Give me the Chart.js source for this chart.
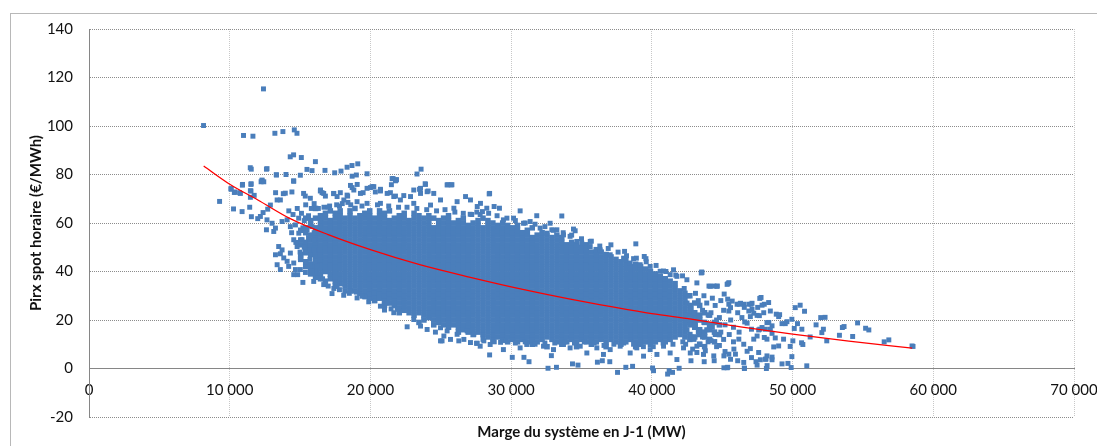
<!DOCTYPE html>
<html>
<head>
<meta charset="utf-8">
<script src="https://cdn.jsdelivr.net/npm/chart.js@4.4.1/dist/chart.umd.min.js"></script>
<style>
  html, body { margin: 0; padding: 0; background: #fff; }
  #wrap { position: relative; width: 1097px; height: 446px; overflow: hidden; }
  #frame { position: absolute; left: 10px; top: 13px; right: -2px; bottom: -2px; border-left: 1px solid #b8b8b8; border-top: 1px solid #b8b8b8; }
  #chart { position: absolute; left: 0; top: 0; }
</style>
</head>
<body>
<div id="wrap">
  <div id="frame"></div>
  <canvas id="chart" width="1097" height="446"></canvas>
</div>
<script>
// hourly spot price vs. system margin
// dense core: one string per margin column, "MW:prices..."
var coreCols = [
  "15050:45 47 51 53 57",
  "15400:42 44 48 50 52 56 58 62",
  "15750:39 41 43 47 49 51 53 55 59 61",
  "16100:38 40 42 44 46 48 50 52 54 56 58 62 66",
  "16450:37 39 41 43 45 47 49 51 53 55 57 59 61 63",
  "16800:36 40 42 44 46 48 50 52 54 56 58 60 62 64",
  "17150:37 39 41 43 45 47 49 51 53 55 57 59 61 65",
  "17500:34 36 38 40 42 44 46 48 50 52 54 56 58 60 62 64",
  "17850:35 37 39 41 43 45 47 49 51 53 55 57 59 61 63 65",
  "18200:32 34 36 38 40 42 44 46 48 50 52 54 56 58 60 62",
  "18550:33 35 37 39 41 43 45 47 49 51 53 55 57 59 61 63 65",
  "18900:32 34 36 38 40 42 44 46 48 50 52 54 56 58 60 62 66",
  "19250:31 33 35 37 39 41 43 45 47 49 51 53 55 57 59 61 63",
  "19600:30 32 34 36 38 40 42 44 46 48 50 52 54 56 58 60 62 64",
  "19950:29 31 33 35 37 39 41 43 45 47 49 51 53 55 57 59 61 63 65",
  "20300:28 30 32 34 36 38 40 42 44 46 48 50 52 54 56 58 60 62",
  "20650:29 31 33 35 37 39 41 43 45 47 49 51 53 55 57 59 61 63 65",
  "21000:26 28 30 32 34 36 38 40 42 44 46 48 50 52 54 56 58 60 62 64",
  "21350:27 29 31 33 35 37 39 41 43 45 47 49 51 53 55 57 59 61 65",
  "21700:26 28 30 32 34 36 38 40 42 44 46 48 50 52 54 56 58 60 62",
  "22050:23 25 27 29 31 33 35 37 39 41 43 45 47 49 51 53 55 57 59 61 63",
  "22400:24 26 28 30 32 34 36 38 40 42 44 46 48 50 52 54 56 58 60 62 64",
  "22750:23 25 27 29 31 33 35 37 39 41 43 45 47 49 51 53 55 57 59 61",
  "23100:22 24 26 28 30 32 34 36 38 40 42 44 46 48 50 52 54 56 58 60 62 64",
  "23450:19 23 25 27 29 31 33 35 37 39 41 43 45 47 49 51 53 55 57 59 61 63",
  "23800:20 22 24 26 28 30 32 34 36 38 40 42 44 46 48 50 52 54 56 58 60 62",
  "24150:21 23 25 27 29 31 33 35 37 39 41 43 45 47 49 51 53 55 57 59 61 63",
  "24500:18 20 22 24 26 28 30 32 34 36 38 40 42 44 46 48 50 52 54 56 58 62",
  "24850:19 21 23 25 27 29 31 33 35 37 39 41 43 45 47 49 51 53 55 57 59 61",
  "25200:18 20 22 24 26 28 30 32 34 36 38 40 42 44 46 48 50 52 54 56 58 60 62",
  "25550:17 19 21 23 25 27 29 31 33 35 37 39 41 43 45 47 49 51 53 55 57 59 61 63",
  "25900:18 20 22 24 26 28 30 32 34 36 38 40 42 44 46 48 50 52 54 56 58 60",
  "26250:15 17 19 21 23 25 27 29 31 33 35 37 39 41 43 45 47 49 51 53 55 57 59 61",
  "26600:16 18 20 22 24 26 28 30 32 34 36 38 40 42 44 46 48 50 52 54 56 58 60 62",
  "26950:15 17 19 21 23 25 27 29 31 33 35 37 39 41 43 45 47 49 51 53 55 57 59",
  "27300:14 16 18 20 22 24 26 28 30 32 34 36 38 40 42 44 46 48 50 52 54 56 58 60",
  "27650:15 17 19 21 23 25 27 29 31 33 35 37 39 41 43 45 47 49 51 53 55 57 59 61",
  "28000:14 16 18 20 22 24 26 28 30 32 34 36 38 40 42 44 46 48 50 52 54 56 58 62",
  "28350:13 15 17 19 21 23 25 27 29 31 33 35 37 39 41 43 45 47 49 51 53 55 57 59 61",
  "28700:12 14 16 18 20 22 24 26 28 30 32 34 36 38 40 42 44 46 48 50 52 54 56 58 60",
  "29050:13 15 17 19 21 23 25 27 29 31 33 35 37 39 41 43 45 47 49 51 53 55 57 59",
  "29400:12 14 16 18 20 22 24 26 28 30 32 34 36 38 40 42 44 46 48 50 52 54 56 58 60",
  "29750:11 13 15 17 19 21 23 25 27 29 31 33 35 37 39 41 43 45 47 49 51 53 55 57 59",
  "30100:12 14 16 18 20 22 24 26 28 30 32 34 36 38 40 42 44 46 48 50 52 54 56 58",
  "30450:11 13 15 17 19 21 23 25 27 29 31 33 35 37 39 41 43 45 47 49 51 53 55 57 59",
  "30800:12 14 16 18 20 22 24 26 28 30 32 34 36 38 40 42 44 46 48 50 52 54 56",
  "31150:11 13 15 17 19 21 23 25 27 29 31 33 35 37 39 41 43 45 47 49 51 53 55 57",
  "31500:10 12 14 16 18 20 22 24 26 28 30 32 34 36 38 40 42 44 46 48 50 52 54 58",
  "31850:11 13 15 17 19 21 23 25 27 29 31 33 35 37 39 41 43 45 47 49 51 53 55",
  "32200:12 14 16 18 20 22 24 26 28 30 32 34 36 38 40 42 44 46 48 50 52 54 56",
  "32550:9 13 15 17 19 21 23 25 27 29 31 33 35 37 39 41 43 45 47 49 51 53 55",
  "32900:12 14 16 18 20 22 24 26 28 30 32 34 36 38 40 42 44 46 48 50 52 54",
  "33250:11 13 15 17 19 21 23 25 27 29 31 33 35 37 39 41 43 45 47 49 51 53 55",
  "33600:10 12 14 16 18 20 22 24 26 28 30 32 34 36 38 40 42 44 46 48 50 52 54",
  "33950:11 13 15 17 19 21 23 25 27 29 31 33 35 37 39 41 43 45 47 49 51",
  "34300:12 14 16 18 20 22 24 26 28 30 32 34 36 38 40 42 44 46 48 50 52",
  "34650:9 11 13 15 17 19 21 23 25 27 29 31 33 35 37 39 41 43 45 47 49 51",
  "35000:12 14 16 18 20 22 24 26 28 30 32 34 36 38 40 42 44 46 48 50",
  "35350:11 13 15 17 19 21 23 25 27 29 31 33 35 37 39 41 43 45 47 49 51",
  "35700:10 12 14 16 18 20 22 24 26 28 30 32 34 36 38 40 42 44 46 48",
  "36050:11 13 15 17 19 21 23 25 27 29 31 33 35 37 39 41 43 45 47 49",
  "36400:12 14 16 18 20 22 24 26 28 30 32 34 36 38 40 42 44 46 48",
  "36750:9 11 13 15 17 19 21 23 25 27 29 31 33 35 37 39 41 43 45 47",
  "37100:12 14 16 18 20 22 24 26 28 30 32 34 36 38 40 42 44 46",
  "37450:11 13 15 17 19 21 23 25 27 29 31 33 35 37 39 41 43 45",
  "37800:10 12 14 16 18 20 22 24 26 28 30 32 34 36 38 40 42 44",
  "38150:11 13 15 17 19 21 23 25 27 29 31 33 35 37 39 41 43 45",
  "38500:12 14 16 18 20 22 24 26 28 30 32 34 36 38 40 42",
  "38850:9 11 13 15 17 19 21 23 25 27 29 31 33 35 37 39 41 43",
  "39200:10 12 14 16 18 20 22 24 26 28 30 32 34 36 38 40 42",
  "39550:11 13 15 17 19 21 23 25 27 29 31 33 35 37 39 41",
  "39900:10 12 14 16 18 20 22 24 26 28 30 32 34 36 38 40",
  "40250:11 13 15 17 19 21 23 25 27 29 31 33 35 37 39",
  "40600:12 14 16 18 20 22 24 26 28 30 32 34 36 38",
  "40950:11 13 15 17 19 21 23 25 27 29 31 33 35 37",
  "41300:12 14 16 18 20 22 24 26 28 30 32 34 36",
  "41650:13 15 17 19 21 23 25 27 29 31 33 35",
  "42000:14 16 18 20 22 24 26 28 30 32",
  "42350:13 15 17 19 21 23 25 27 29 31",
  "42700:12 14 18 20 22 24 26 30",
  "43050:13 17 19 21 23 27",
  "43400:10 14 16 20 22 26",
  "43750:9 13 15 19 23",
  "44100:12 16 18 22",
  "44450:11 15 19",
  "44800:14 18"
];

// scattered points round the core, [MW, €/MWh]
var highOutliers = [
  [8140,100.2],[12400,115.3],[10980,96.1],[11650,95.8],[13210,97.0],[13780,97.7],[14590,98.4],[14780,97.0],
  [14300,87.3],[14540,88.1],[15090,87.0],[11460,82.8],[11530,82.2],[12650,82.4],[16090,85.3],[15490,82.1],
  [15850,81.6],[16770,81.7],[17460,80.7],[17910,81.4],[18340,83.0],[18690,83.7],[19100,84.4],[19760,80.3],
  [10910,75.9],[11510,75.9],[11510,73.2],[10090,74.2],[10340,72.8],[10700,72.5],[11740,71.4],[12290,77.4],
  [12230,77.0],[14000,80.0],[13260,72.5],[13810,72.1],[13950,72.3],[14420,72.8],[15020,79.7],[9280,68.9],
  [10270,65.8],[13310,79.9],[14540,77.4],[23600,82.2],[23310,80.2],[21610,78.3],[21820,77.7],[21490,75.8],
  [23890,76.2],[25500,75.8],[25790,75.8],[23490,73.9],[23560,72.2],[24030,72.9],[24100,73.2],[22370,71.3],
  [28470,72.2],[20710,73.2],[15250,72.2],[15370,71.1],[15730,70.2],[16440,73.2],[16560,72.5],[16800,71.1],
  [17390,72.1],[17860,72.5],[18380,71.1],[18700,79.3],[19000,79.8],[18580,75.5],[18700,74.6],[19060,75.9],
  [19480,72.5],[20000,74.6],[20350,72.8],[20710,73.9],[21540,78.3],[21850,77.9],[21420,72.5],[21780,71.1]
];
var leftCluster = [
  [10100,73.9],[10330,72.6],[10760,72.2],[10900,75.6],[11470,73.3],[11520,76.2],[11470,70.6],[11420,66.5],
  [11540,62.6],[10880,64.7],[12300,77.7],[12420,77.0],[12610,82.2],[13320,79.8],[14550,77.2],[12180,62.7],
  [11990,61.8],[12370,64.3],[12700,65.7],[12890,67.4],[13370,69.5],[13600,69.5],[12650,61.3],[13010,59.9],
  [13250,57.9],[12610,57.2],[13130,56.5],[13480,50.3],[13720,48.9],[13250,46.9],[13600,47.3],[13370,42.8],
  [13600,40.8],[14190,42.1],[14550,38.7],[14830,38.7],[15380,39.6],[15970,35.9],[16680,34.6],[17270,30.9],
  [18100,30.2],[13720,60.6],[14080,61.3],[14310,58.5],[14670,59.2],[14910,55.8],[14550,53.1],[14790,50.3],
  [14310,47.6],[13840,45.6],[14080,44.2],[14550,43.5],[15020,45.6],[15380,47.6],[15140,53.1],[15500,57.2],
  [15850,58.5],[15970,53.1],[15740,49.0],[16090,46.2],[16210,42.1],[15850,40.1],[15500,42.1],[15020,40.8],
  [14670,40.8],[14200,65.0],[14500,63.5],[14800,66.0],[15100,64.0],[15300,61.0],[15600,63.0],[15800,66.0],
  [16000,68.0],[15400,67.5],[14900,62.0],[15200,58.0],[15600,54.0],[15300,50.0],[15000,48.0],[15700,45.0],
  [16000,49.0],[16000,56.0],[15400,44.0],[14400,56.0],[14700,52.0],[15200,35.5],[16300,37.5],[16600,37.0],
  [17000,34.0],[17400,33.0],[17800,32.5],[18500,31.0],[19000,31.5],[19600,29.5],[20300,28.0],[16300,66.0],
  [16700,66.5],[17100,67.0],[17600,67.5],[18000,68.0],[18400,68.5]
];
var topFringe = [
  [16450,73.6],[16680,72.2],[17390,72.2],[17630,70.9],[18340,71.5],[18820,73.6],[19290,72.2],[19760,74.3],
  [20240,75.0],[20710,73.6],[21190,72.2],[21660,70.9],[22130,69.5],[22850,70.9],[23080,73.6],[23560,74.3],
  [23910,75.9],[24500,72.2],[24980,69.5],[25450,75.7],[25740,75.7],[26160,68.8],[26760,70.9],[27110,69.5],
  [27590,66.8],[27820,68.1],[21780,77.4],[20120,75.0],[18110,69.5],[19050,68.8],[19760,68.1],[20710,68.1],
  [23080,68.1],[24270,67.4],[25930,66.1],[17000,66.5],[17800,67.0],[18600,67.5],[19400,67.0],[20500,67.5],
  [21300,67.0],[22000,66.5],[22600,66.5],[23300,66.0],[24000,65.5],[24700,65.0],[25300,65.5],[26000,64.5],
  [26600,64.0],[27200,63.5],[27800,63.5],[28400,64.0],[29000,63.0],[29700,62.0],[30300,61.0],[31000,60.0],
  [31700,59.5],[32400,58.5],[33000,57.0],[33700,56.0],[34300,55.0],[35000,53.5],[35700,52.5],[36300,50.5],
  [36900,49.5],[37600,48.0],[38200,46.5],[38900,45.5],[39600,44.0],[40300,42.5],[41000,40.0],[41700,38.5],
  [27090,63.6],[27560,64.5],[27960,64.7],[28270,66.1],[28440,72.0],[28790,66.8],[29170,66.1],[30640,65.0],
  [31820,63.0],[33600,62.9],[32770,59.9],[32890,57.2],[34430,57.5],[34550,56.8],[34670,52.4],[35020,51.7],
  [35620,52.4],[37090,51.0],[38860,51.4],[38060,48.3],[38700,45.3],[39460,46.2],[39580,45.3],[29450,61.3],
  [30170,62.0],[30880,59.9],[31350,60.6],[32060,57.9],[32540,55.8],[33250,57.2],[33720,55.1],[34190,54.5],
  [35620,50.3],[36330,48.9],[37040,46.9],[37990,45.5],[38460,43.5],[39170,42.8],[39880,42.1],[40590,40.1],
  [41300,38.7],[41780,38.0],[42490,36.6],[43200,35.3],[43510,39.4],[44150,33.9],[44620,33.9],[45410,35.0],
  [40830,40.2],[41540,40.7],[42180,38.2],[43560,39.6]
];
var bottomFringe = [
  [37560,-1.6],[38150,0.5],[38630,0.9],[41230,-0.9],[41470,-1.6],[41120,-2.3],[40050,0.2],[40120,-0.9],
  [32620,0.1],[33220,0.5],[34360,1.9],[34750,1.4],[36130,2.6],[36480,3.2],[37010,2.8],[28470,5.6],
  [27590,10.4],[28060,11.4],[29250,10.8],[30080,4.6],[30910,4.6],[31270,2.8],[32860,5.3],[41940,0.1],
  [42780,3.2],[43720,2.8],[44430,3.2],[45390,0.5],[46100,3.2],[46570,0.2],[47400,2.8],[48110,3.9],
  [48190,1.2],[27800,9.2],[28510,9.9],[29450,7.8],[30640,8.5],[31110,9.9],[32300,9.2],[33010,7.8],
  [33720,9.9],[34190,8.5],[34910,9.2],[35380,6.4],[36090,8.5],[36560,5.8],[37040,7.8],[37750,9.2],
  [38460,6.4],[38930,8.5],[39410,5.1],[39880,7.8],[40360,5.8],[40830,9.2],[41300,6.4],[41780,3.7],
  [42250,8.5],[42730,6.4],[43200,9.2],[43670,5.8],[21660,23.0],[23080,20.2],[23560,17.5],[24030,16.1],
  [25220,13.4],[26640,12.0],[27110,10.7],[24980,11.4],[24620,15.0],[25090,11.4],[25690,12.0],[26280,11.4],
  [27540,10.4],[24980,16.8],[25450,15.5],[26160,14.1],[26870,15.5],[27350,14.1],[22610,17.2],[21000,24.1],
  [21470,24.6],[19050,29.1],[19880,27.5],[20590,29.1],[17630,33.9],[18580,31.9],[19410,29.8],[20240,31.2],
  [21190,27.1],[21900,24.4],[20710,25.7],[28000,12.0],[28800,11.0],[29600,11.5],[30300,10.5],[31000,11.0],
  [31700,10.0],[32400,10.5],[33100,10.5],[33800,11.0],[34500,10.5],[35200,11.0],[35900,10.5],[36600,9.5],
  [37300,10.0],[38000,10.5],[38700,10.0],[39400,9.0],[40100,9.0],[40800,10.5],[41500,10.0],[42200,11.0]
];
var rightCluster = [
  [42300,33],[42600,30],[42500,27],[42800,25],[42400,22],[42700,19],[42500,16],[42800,13],[42400,10],[42900,8],
  [43100,31],[43300,28],[43000,23],[43400,21],[43100,18],[43300,15],[43000,12],[43400,10],[43200,6.6],
  [43700,30],[43900,27],[43600,24],[44000,22],[43700,19],[43900,16],[43600,13],[44000,11],[43800,7.3],
  [44300,29],[44500,26],[44200,23],[44600,20],[44300,17],[44500,14],[44200,11.5],[44600,9],[44400,5.2],
  [44900,28],[45100,24],[44800,21],[45200,18],[44900,15],[45100,12],[44800,9.5],[45200,7],[45120,5.2],
  [45470,26.5],[45590,25.1],[45470,23.7],[45710,27.8],[45600,20],[45800,17],[45500,14],[45800,11],
  [45830,8.0],[45940,5.9],[45470,5.9],[45590,3.8],[46060,26.5],[46300,26.9],[46530,26.5],[46890,26.5],
  [47120,26.9],[47120,24.4],[46890,23.7],[47240,22.8],[47480,21.9],[47000,21.4],[46770,18.7],[46600,19.2],
  [46180,12.1],[46530,10.0],[46200,15],[46400,21],[46100,23],[47080,4.5],[47590,6.6],[47710,3.6],
  [46770,7.1],[47000,8.2],[47240,12.1],[47480,13.4],[47670,16.2],[47080,16.2],[45470,35.4],[45350,34.7],
  [44060,34.0],[44410,34.0],[44650,34.0],[43540,39.8],[45140,30.7],[45390,28.6],[46210,26.5],[46570,25.2],
  [47050,26.5],[47760,29.3],[47990,26.5],[48310,19.0],[47520,25.2],[47640,21.8]
];
var rightTail = [
  [47670,28.9],[48300,27.2],[47830,26.1],[48420,23.7],[48840,22.4],[49080,22.2],[49010,21.4],[50190,25.1],
  [50540,26.1],[50850,23.6],[52000,21.0],[52310,21.1],[51670,18.0],[52190,16.2],[52080,14.8],[52430,11.4],
  [53540,16.9],[53660,17.3],[54620,18.8],[55190,16.6],[55420,15.9],[54270,13.2],[53330,13.7],[56510,11.0],
  [56840,11.8],[58490,9.3],[58560,9.1],[51250,13.0],[51010,1.1],[49950,4.9],[49900,0.4],[49670,2.1],
  [49250,1.9],[50660,16.2],[50120,16.5],[50350,18.5],[49480,18.5],[49250,18.5],[49600,19.3],[49950,20.3],
  [50640,10.6],[50730,9.9],[50020,11.4],[49830,9.1],[48540,14.5],[48770,12.6],[48180,12.1],[47990,12.8],
  [49360,12.1],[49010,9.3],[48660,8.9],[48540,4.7],[48180,5.2],[48070,3.8],[48540,3.6],[47480,1.4],
  [48140,0.0],[46530,2.5],[46580,0.0],[45350,0.3],[45120,0.3],[47950,23.0],[48180,18.9],[48540,17.6],
  [48420,16.2],[48070,16.2],[47830,16.9],[47590,15.9]
];

// red trend curve, read at a few margins
var trendX = [8150, 10000, 12000, 14300, 17000, 20000, 23500, 27100, 31000, 34200, 37000, 40000, 42800, 46300, 50000, 54000, 58500];
var trendY = [83.5, 76.0, 69.5, 61.8, 55.2, 49.0, 42.8, 37.6, 32.4, 28.6, 25.6, 22.6, 20.4, 17.2, 14.2, 11.3, 8.4];

var xTicks = [0, 10000, 20000, 30000, 40000, 50000, 60000, 70000];
var yTicks = [-20, 0, 20, 40, 60, 80, 100, 120, 140];

var FONT = "Lato, 'Open Sans', sans-serif";
var BLUE = "#4a7ebb";

function colPoints(cols) {
  var out = [];
  cols.forEach(function(s) {
    var parts = s.split(":");
    var x = +parts[0];
    parts[1].split(" ").forEach(function(v) { out.push({ x: x, y: +v }); });
  });
  return out;
}
function pairPoints(list) {
  return list.map(function(p) { return { x: p[0], y: p[1] }; });
}
function spaced(v) {
  return String(v).replace(/\B(?=(\d{3})+(?!\d))/g, " ");
}

var coreData = colPoints(coreCols);
var fringeData = [].concat(pairPoints(highOutliers), pairPoints(leftCluster), pairPoints(topFringe),
                           pairPoints(bottomFringe), pairPoints(rightCluster), pairPoints(rightTail));
var trendData = trendX.map(function(x, i) { return { x: x, y: trendY[i] }; });

new Chart(document.getElementById("chart").getContext("2d"), {
  type: "scatter",
  data: {
    datasets: [
      {
        type: "line",
        label: "Tendance",
        data: trendData,
        borderColor: "#ff0000",
        borderWidth: 1.3,
        pointRadius: 0,
        fill: false,
        cubicInterpolationMode: "monotone"
      },
      {
        label: "Prix spot",
        data: fringeData,
        backgroundColor: BLUE,
        borderWidth: 0,
        pointRadius: 3.5,
        pointStyle: "rect"
      },
      {
        label: "Prix spot (nuage)",
        data: coreData,
        backgroundColor: BLUE,
        borderWidth: 0,
        pointRadius: 3.9,
        pointStyle: "rect"
      }
    ]
  },
  options: {
    responsive: false,
    animation: false,
    layout: { padding: { left: 10, top: 29, right: 23, bottom: 0 } },
    plugins: { legend: { display: false }, tooltip: { enabled: false } },
    scales: {
      x: {
        type: "linear",
        position: { y: 0 },
        min: 0,
        max: 70000,
        afterBuildTicks: function(s) { s.ticks = xTicks.map(function(v) { return { value: v }; }); },
        afterFit: function(s) { s.paddingLeft = 0; s.paddingRight = 0; },
        ticks: { padding: 13, maxRotation: 0, color: "#111", font: { family: FONT, size: 15 }, callback: function(v) { return spaced(v); } },
        grid: { color: "#c8c8c8", lineWidth: 1, drawTicks: false },
        border: { color: "#868686", width: 1, dash: [1, 1] }
      },
      x2: {
        type: "linear",
        position: "bottom",
        min: 0,
        max: 70000,
        ticks: { display: false },
        grid: { display: false, drawTicks: false },
        border: { display: false },
        title: { display: true, text: "Marge du système en J-1 (MW)", color: "#111", font: { family: FONT, size: 15, weight: "bold" }, padding: { top: 0, bottom: 5 } },
        afterFit: function(s) { s.height = 29; s.paddingLeft = 0; s.paddingRight = 0; }
      },
      y: {
        min: -20,
        max: 140,
        afterBuildTicks: function(s) { s.ticks = yTicks.map(function(v) { return { value: v }; }); },
        ticks: { padding: 16, color: "#111", font: { family: FONT, size: 15 } },
        grid: { color: "#8c8c8c", lineWidth: 1, drawTicks: false },
        border: { color: "#868686", width: 1, dash: [1, 1] },
        title: { display: true, text: "Pirx spot horaire (€/MWh)", color: "#111", font: { family: FONT, size: 15, weight: "bold" }, padding: { top: 17, bottom: 0 } },
        afterFit: function(s) { s.width = 79; }
      }
    }
  }
});
</script>
</body>
</html>
